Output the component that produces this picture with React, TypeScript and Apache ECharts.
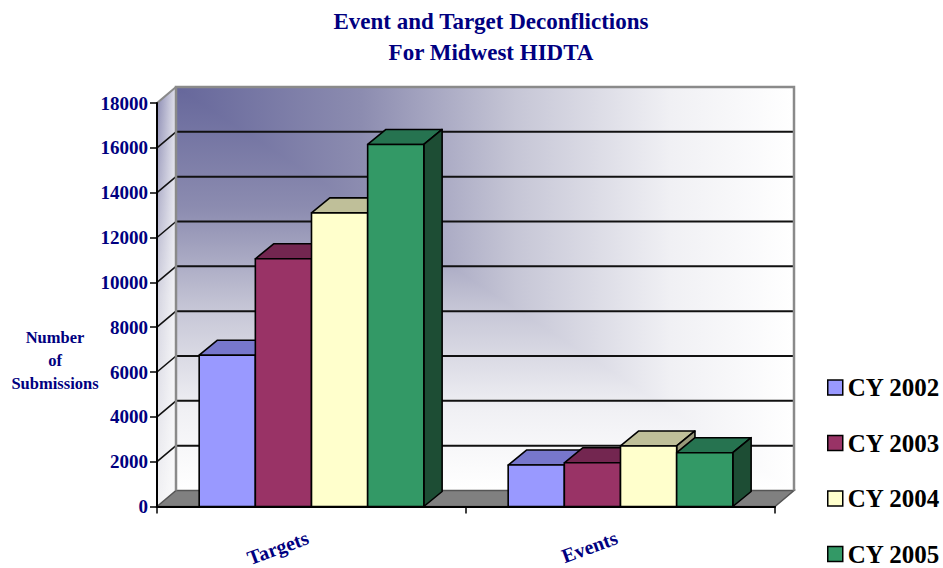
import React, { useEffect, useRef } from 'react';
import * as echarts from 'echarts';

const categories = ['Targets', 'Events'];
const seriesNames = ['CY 2002', 'CY 2003', 'CY 2004', 'CY 2005'];
const cy2002 = [6750, 1850];
const cy2003 = [11050, 1950];
const cy2004 = [13100, 2700];
const cy2005 = [16150, 2400];
const seriesValues = [cy2002, cy2003, cy2004, cy2005];
const yTickValues = [0, 2000, 4000, 6000, 8000, 10000, 12000, 14000, 16000, 18000];

const FRONT = ['#9999ff', '#993366', '#ffffcc', '#339966'];
const TOP = ['#7777cc', '#732650', '#bfbf99', '#267350'];
const SIDE = ['#5c5c99', '#5c1f3d', '#99997a', '#1d4d34'];

const FONT = 'Liberation Serif';
const NAVY = '#000080';
const WALL_DX = 19;
const WALL_DY = -16;
const BAR_DX = 18.3;
const BAR_DY = -15;
const CAT_GAP = 0.273;

const wallStops = [
  { offset: 0, color: '#66679b' },
  { offset: 0.3, color: '#8c8cb0' },
  { offset: 0.55, color: '#c6c6d6' },
  { offset: 0.8, color: '#f0f0f4' },
  { offset: 1, color: '#ffffff' },
];

function renderWalls(params: any, api: any) {
  const cs = params.coordSys;
  const L = cs.x, T = cs.y, W = cs.width, H = cs.height;
  const R = L + W, B = T + H;
  const bL = L + WALL_DX, bR = R + WALL_DX, bT = T + WALL_DY, bB = B + WALL_DY;
  const children: any[] = [];
  children.push({
    type: 'rect',
    shape: { x: bL, y: bT, width: bR - bL, height: bB - bT },
    style: { fill: new echarts.graphic.LinearGradient(0, 0, 0, 1, wallStops) },
  });
  children.push({
    type: 'polygon',
    shape: { points: [[bL, bT], [bR, bT], [bR, bB]] },
    style: { fill: new echarts.graphic.LinearGradient(0, 0, 1, 0, wallStops) },
  });
  children.push({
    type: 'polygon',
    shape: { points: [[L, T], [bL, bT], [bL, bB], [L, B]] },
    style: {
      fill: new echarts.graphic.LinearGradient(0, 0, 0, 1, [
        { offset: 0, color: '#8a8ab2' },
        { offset: 0.5, color: '#d4d4e0' },
        { offset: 1, color: '#f2f2f4' },
      ]),
    },
  });
  children.push({
    type: 'polygon',
    shape: { points: [[L, T], [bL, bT], [bL, bB], [L, B]] },
    style: {
      fill: new echarts.graphic.LinearGradient(0, 0, 1, 0, [
        { offset: 0, color: 'rgba(255,255,255,0)' },
        { offset: 1, color: 'rgba(255,255,255,0.75)' },
      ]),
    },
  });
  children.push({
    type: 'polygon',
    shape: { points: [[L, B], [bL, bB], [bR, bB], [R, B]] },
    style: { fill: '#808080', stroke: '#555555', lineWidth: 1.5 },
  });
  const maxV = yTickValues[yTickValues.length - 1];
  yTickValues.forEach((v) => {
    if (v <= 0 || v >= maxV) return;
    const y = api.coord([0, v])[1];
    children.push({
      type: 'line',
      shape: { x1: bL, y1: y + WALL_DY, x2: bR, y2: y + WALL_DY },
      style: { stroke: '#111111', lineWidth: 2 },
    });
    children.push({
      type: 'line',
      shape: { x1: L, y1: y, x2: bL, y2: y + WALL_DY },
      style: { stroke: '#111111', lineWidth: 1.6 },
    });
  });
  children.push({
    type: 'polyline',
    shape: { points: [[bL, bB], [bL, bT], [bR, bT], [bR, bB]] },
    style: { stroke: '#8a8a8a', lineWidth: 2.5, fill: null },
  });
  children.push({
    type: 'line',
    shape: { x1: L, y1: T, x2: bL, y2: bT },
    style: { stroke: '#8a8a8a', lineWidth: 2 },
  });
  return { type: 'group', children };
}

function makeBarRenderer(j: number) {
  return function (params: any, api: any) {
    const i = api.value(0);
    const v = api.value(1);
    const top = api.coord([i, v]);
    const cx = top[0];
    const yTop = top[1];
    const yBase = api.coord([i, 0])[1];
    const catW = api.size([1, 0])[0];
    const bw = (catW * (1 - CAT_GAP)) / 4;
    const x0 = cx - 2 * bw + j * bw;
    const x1 = x0 + bw;
    const edge = { stroke: '#000000', lineWidth: 1.6, lineJoin: 'round' };
    return {
      type: 'group',
      children: [
        {
          type: 'polygon',
          shape: { points: [[x0, yTop], [x0 + BAR_DX, yTop + BAR_DY], [x1 + BAR_DX, yTop + BAR_DY], [x1, yTop]] },
          style: { fill: TOP[j], ...edge },
        },
        {
          type: 'polygon',
          shape: { points: [[x1, yTop], [x1 + BAR_DX, yTop + BAR_DY], [x1 + BAR_DX, yBase + BAR_DY], [x1, yBase]] },
          style: { fill: SIDE[j], ...edge },
        },
        {
          type: 'rect',
          shape: { x: x0, y: yTop, width: bw, height: yBase - yTop },
          style: { fill: FRONT[j], ...edge },
        },
      ],
    };
  };
}

export default function App() {
  const ref = useRef<HTMLDivElement>(null);
  useEffect(() => {
    document.body.style.margin = '0';
    if (!ref.current) return;
    const chart = echarts.init(ref.current, null, { renderer: 'svg' });
    const barSeries = seriesNames.map((name, j) => ({
      name,
      type: 'custom',
      renderItem: makeBarRenderer(j),
      data: seriesValues[j].map((v, i) => [i, v]),
      encode: { x: 0, y: 1 },
      itemStyle: { color: FRONT[j] },
      clip: false,
      z: 3,
    }));
    const option: any = {
      animation: false,
      color: FRONT,
      textStyle: { fontFamily: FONT },
      title: {
        text: 'Event and Target Deconflictions\nFor Midwest HIDTA',
        left: 486,
        top: 1,
        textAlign: 'center',
        textStyle: { fontFamily: FONT, fontSize: 23, fontWeight: 'bold', color: NAVY, lineHeight: 31 },
      },
      legend: {
        orient: 'vertical',
        left: 827,
        top: 375,
        height: 193,
        padding: 0,
        icon: 'rect',
        itemWidth: 15,
        itemHeight: 15,
        itemGap: 30.5,
        data: seriesNames,
        itemStyle: { borderColor: '#000000', borderWidth: 1.5 },
        textStyle: { fontFamily: FONT, fontSize: 25, fontWeight: 'bold', color: '#000000', lineHeight: 24 },
        selectedMode: false,
      },
      grid: { left: 157, right: 168, top: 103, bottom: 61.5, containLabel: false, outerBoundsMode: 'none' },
      xAxis: {
        type: 'category',
        data: categories,
        boundaryGap: true,
        z: 5,
        axisLine: { show: true, lineStyle: { color: '#000000', width: 2 } },
        axisTick: { show: true, length: 7, lineStyle: { color: '#000000', width: 1.5 } },
        axisLabel: {
          interval: 0,
          rotate: 20,
          margin: 29,
          padding: [0, 4, 0, 0],
          fontFamily: FONT,
          fontSize: 20,
          fontWeight: 'bold',
          color: NAVY,
        },
        splitLine: { show: false },
      },
      yAxis: {
        type: 'value',
        min: 0,
        max: 18000,
        interval: 2000,
        z: 5,
        axisLine: { show: true, lineStyle: { color: '#000000', width: 2 } },
        axisTick: { show: true, length: 7, lineStyle: { color: '#000000', width: 1.5 } },
        axisLabel: {
          margin: 9,
          fontFamily: FONT,
          fontSize: 19,
          fontWeight: 'bold',
          color: NAVY,
          formatter: (v: number) => String(v),
        },
        splitLine: { show: false },
      },
      graphic: [
        {
          type: 'text',
          x: 55,
          y: 360,
          style: {
            text: 'Number\nof\nSubmissions',
            align: 'center',
            verticalAlign: 'middle',
            fontFamily: FONT,
            fontSize: 16.5,
            fontWeight: 'bold',
            lineHeight: 23,
            fill: NAVY,
          },
        },
      ],
      series: [
        {
          name: 'walls',
          type: 'custom',
          renderItem: renderWalls,
          data: [[0, 0]],
          encode: { x: 0, y: 1 },
          silent: true,
          clip: false,
          z: 1,
        },
        ...barSeries,
      ],
    };
    chart.setOption(option);
    return () => chart.dispose();
  }, []);
  return <div ref={ref} style={{ width: 943, height: 568 }} />;
}
